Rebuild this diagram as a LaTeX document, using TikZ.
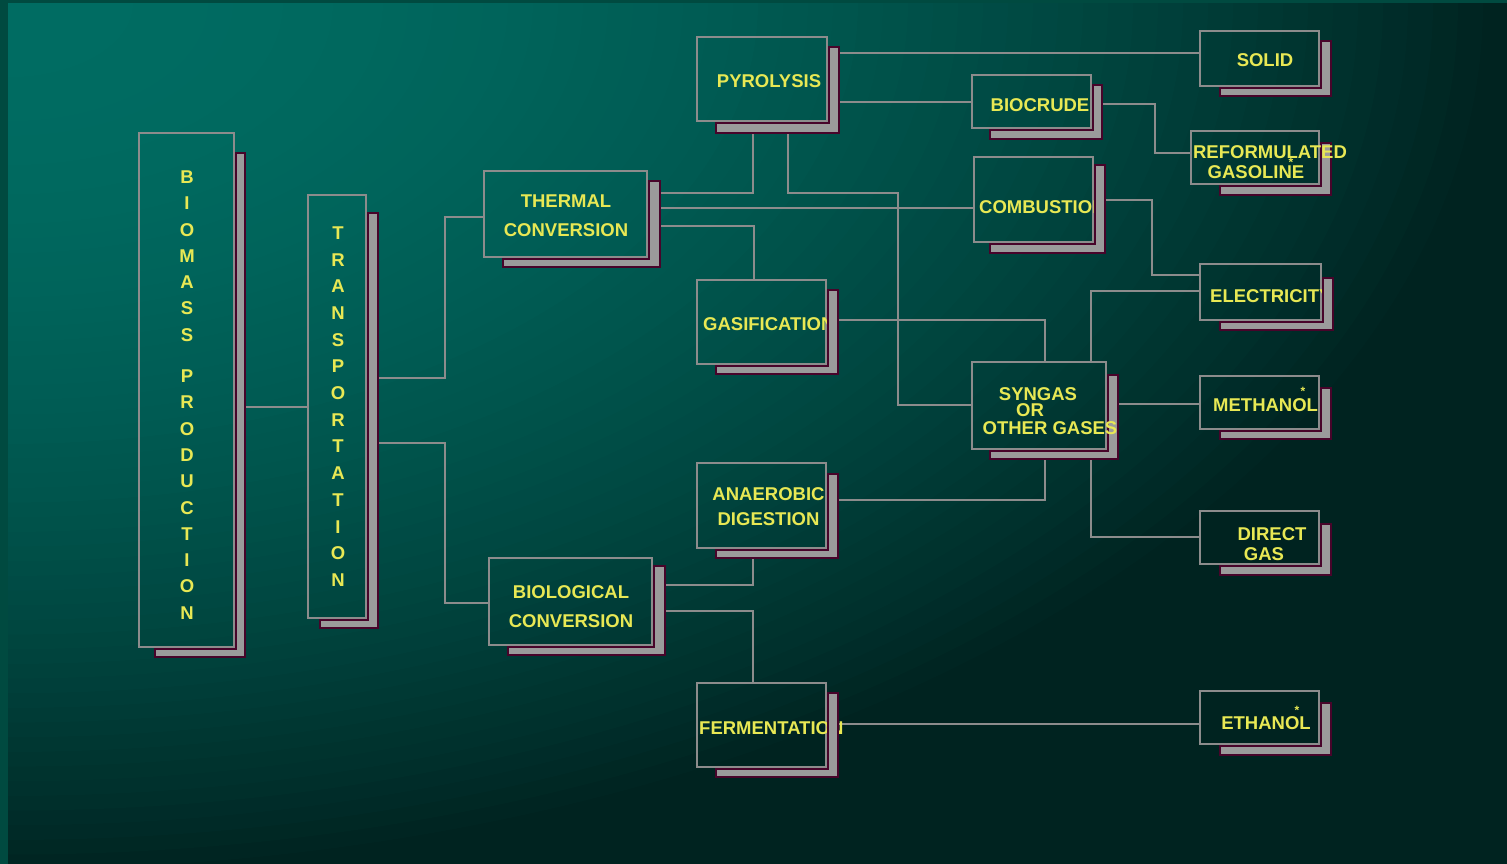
\documentclass[tikz,border=0pt]{standalone}
\usepackage{fontspec}
\setmainfont{Liberation Sans}
\usetikzlibrary{calc}
\definecolor{bgEdge}{RGB}{0,74,64}
\definecolor{bgA}{RGB}{0,108,98}
\definecolor{bgD}{RGB}{0,35,32}
\definecolor{boxgray}{RGB}{140,140,140}
\definecolor{shadgray}{RGB}{155,155,155}
\definecolor{maroon}{RGB}{72,4,42}
\definecolor{txtyellow}{RGB}{232,232,84}
\newcommand\mkbox[5]{\node[box, minimum width={#4-#2}, minimum height={#5-#3}] (#1) at ({(#2+#4)/2},{(#3+#5)/2}) {};}
\newcommand\mkshadow[6]{\filldraw[shad] ({#1+2},#6) -- (#3,#6) -- (#3,#4) -- (#5,#4) -- (#5,{#2+2}) -- ({#1+2},{#2+2}) -- cycle;}
\begin{document}
\begin{tikzpicture}[x=1pt,y=-1pt,
  box/.style={draw=boxgray, line width=2pt, inner sep=0pt, outer sep=0pt, rectangle},
  shad/.style={fill=shadgray, draw=maroon, line width=2.2pt, line join=miter},
  conn/.style={draw=boxgray, line width=2pt},
  lbl/.style={text=txtyellow, font=\fontsize{18.5}{20}\selectfont\bfseries, inner sep=0pt, align=center},
  star/.style={text=txtyellow, font=\fontsize{12}{12}\selectfont\bfseries, inner sep=0pt}]
\useasboundingbox (0,0) rectangle (1507,864);
\fill[bgEdge] (0,0) rectangle (1507,864);
\begin{scope}
\clip (8,4) rectangle (1507,864);
\fill[bgD] (8,4) rectangle (1507,864);
\foreach \i in {60,59,...,1}{
  \pgfmathsetmacro\pp{100*(\i/60)^2}
  \pgfmathsetmacro\rx{25*\i}
  \pgfmathsetmacro\ry{14.6667*\i}
  \fill[bgD!\pp!bgA] (8,4) ellipse [x radius=\rx, y radius=\ry];
}
\end{scope}
% boxes
\mkbox{bio}{139}{133}{234}{647}
\mkbox{trans}{308}{195}{366}{618}
\mkbox{therm}{484}{171}{647}{257}
\mkbox{biol}{489}{558}{652}{645}
\mkbox{pyr}{697}{37}{827}{121}
\mkbox{gas}{697}{280}{826}{364}
\mkbox{biocr}{972}{75}{1091}{128}
\mkbox{comb}{974}{157}{1093}{242}
\mkbox{syn}{972}{362}{1106}{449}
\mkbox{anaer}{697}{463}{826}{548}
\mkbox{ferm}{697}{683}{826}{767}
\mkbox{solid}{1200}{31}{1319}{86}
\mkbox{ref}{1191}{131}{1319}{184}
\mkbox{elec}{1200}{264}{1321}{320}
\mkbox{meth}{1200}{376}{1319}{429}
\mkbox{direct}{1200}{511}{1319}{564}
\mkbox{eth}{1200}{691}{1319}{744}
% connectors
\draw[conn] (bio.east |- 0,407) -- (trans.west |- 0,407);
\draw[conn] (trans.east |- 0,378) -- (445,378) -- (445,217) -- (therm.west |- 0,217);
\draw[conn] (trans.east |- 0,443) -- (445,443) -- (445,603) -- (biol.west |- 0,603);
\draw[conn] (therm.east |- 0,193) -- (753,193) -- (pyr.south -| 753,0);
\draw[conn] (therm.east |- 0,208) -- (comb.west |- 0,208);
\draw[conn] (therm.east |- 0,226) -- (754,226) -- (gas.north -| 754,0);
\draw[conn] (pyr.south -| 788,0) -- (788,193) -- (898,193) -- (898,405) -- (syn.west |- 0,405);
\draw[conn] (pyr.east |- 0,53) -- (solid.west |- 0,53);
\draw[conn] (pyr.east |- 0,102) -- (biocr.west |- 0,102);
\draw[conn] (biocr.east |- 0,104) -- (1155,104) -- (1155,153) -- (ref.west |- 0,153);
\draw[conn] (comb.east |- 0,200) -- (1152,200) -- (1152,275) -- (elec.west |- 0,275);
\draw[conn] (gas.east |- 0,320) -- (1045,320) -- (syn.north -| 1045,0);
\draw[conn] (anaer.east |- 0,500) -- (1045,500) -- (syn.south -| 1045,0);
\draw[conn] (syn.north -| 1091,0) -- (1091,291) -- (elec.west |- 0,291);
\draw[conn] (syn.east |- 0,404) -- (meth.west |- 0,404);
\draw[conn] (syn.south -| 1091,0) -- (1091,537) -- (direct.west |- 0,537);
\draw[conn] (biol.east |- 0,585) -- (753,585) -- (anaer.south -| 753,0);
\draw[conn] (biol.east |- 0,611) -- (753,611) -- (ferm.north -| 753,0);
\draw[conn] (ferm.east |- 0,724) -- (eth.west |- 0,724);
% texts hidden partly by shadows
\node[lbl, anchor=west] (gasT) at (703,324) {GASIFICATION};
\node[lbl, anchor=west] (combT) at (979,207) {COMBUSTION};
\node[lbl, anchor=west] (elecT) at (1210,296) {ELECTRICITY};
\node[lbl, anchor=west] (fermT) at (699,728) {FERMENTATION};
% shadows
\mkshadow{234}{647}{245}{657}{155}{153}
\mkshadow{366}{618}{378}{628}{320}{213}
\mkshadow{647}{257}{660}{267}{503}{181}
\mkshadow{652}{645}{665}{655}{508}{566}
\mkshadow{827}{121}{839}{133}{716}{47}
\mkshadow{826}{364}{838}{374}{716}{290}
\mkshadow{1091}{128}{1102}{139}{990}{85}
\mkshadow{1093}{242}{1105}{253}{990}{165}
\mkshadow{1106}{449}{1118}{459}{990}{375}
\mkshadow{826}{548}{838}{558}{716}{474}
\mkshadow{826}{767}{838}{777}{716}{693}
\mkshadow{1319}{86}{1331}{96}{1220}{41}
\mkshadow{1319}{184}{1331}{195}{1220}{143}
\mkshadow{1321}{320}{1333}{330}{1220}{278}
\mkshadow{1319}{429}{1331}{439}{1220}{388}
\mkshadow{1319}{564}{1331}{575}{1220}{524}
\mkshadow{1319}{744}{1331}{755}{1220}{703}
% texts on top
\node[lbl, font=\fontsize{18.5}{26.3}\selectfont\bfseries] (bioT) at (187,395) {B\\I\\O\\M\\A\\S\\S\\[15pt]P\\R\\O\\D\\U\\C\\T\\I\\O\\N};
\node[lbl, font=\fontsize{18.5}{26.7}\selectfont\bfseries] (transT) at (338,406.5) {T\\R\\A\\N\\S\\P\\O\\R\\T\\A\\T\\I\\O\\N};
\node[lbl, font=\fontsize{18.5}{29}\selectfont\bfseries] (thermT) at (566,215.5) {THERMAL\\CONVERSION};
\node[lbl, font=\fontsize{18.5}{29}\selectfont\bfseries] (biolT) at (571,606.5) {BIOLOGICAL\\CONVERSION};
\node[lbl] (pyrT) at (769,81) {PYROLYSIS};
\node[lbl] (biocrT) at (1040,105) {BIOCRUDE};
\node[lbl] (synT1) at (1038,394) {SYNGAS};
\node[lbl] (synT2) at (1030,410) {OR};
\node[lbl] (synT3) at (1050,428) {OTHER GASES};
\node[lbl, font=\fontsize{18.5}{25}\selectfont\bfseries] (anaerT) at (768.5,506.5) {ANAEROBIC\\DIGESTION};
\node[lbl] (solidT) at (1265,60) {SOLID};
\node[lbl] (refT1) at (1270,152) {REFORMULATED};
\node[lbl] (refT2) at (1256,172) {GASOLINE};
\node[star] (refS) at (1291,162) {*};
\node[lbl, anchor=west] (methT) at (1213,405) {METHANOL};
\node[star] (methS) at (1303,391) {*};
\node[lbl] (directT1) at (1272,534) {DIRECT};
\node[lbl] (directT2) at (1264,554) {GAS};
\node[lbl] (ethT) at (1266,723) {ETHANOL};
\node[star] (ethS) at (1297,710) {*};
\end{tikzpicture}
\end{document}
